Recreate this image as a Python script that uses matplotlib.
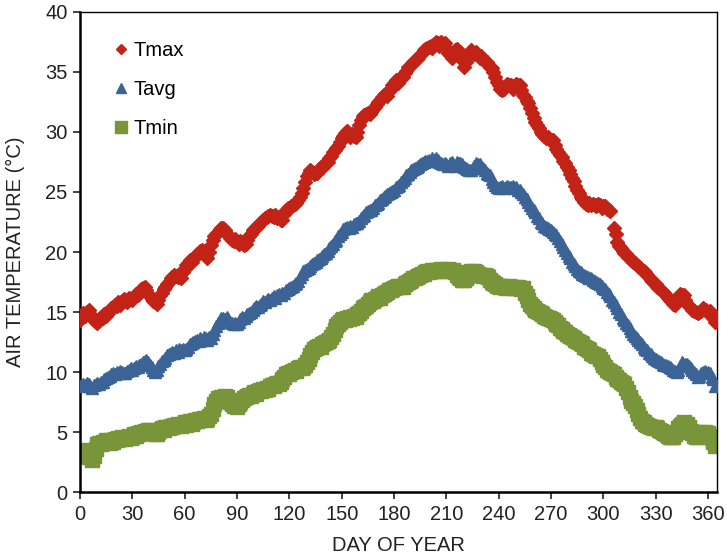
import numpy as np
import matplotlib
matplotlib.use('Agg')
import matplotlib.pyplot as plt

plt.rcParams['font.family'] = ['Liberation Sans Narrow', 'Liberation Sans', 'DejaVu Sans']

# daily air temperature, day 0..364 (nan = missing record)
nan = np.nan
t_max = [
    14.3, 14.6, 14.9, 14.7, 15.0, 15.2, 14.8, 14.5, 14.3, 14.2,
    14.1, 14.4, 14.6, 14.5, 14.8, 14.7, 14.9, 15.1, 15.3, 15.4,
    15.6, 15.5, 15.8, 15.6, 15.9, 16.1, 16.0, 15.8, 16.2, 16.1,
    16.0, 16.3, 16.5, 16.4, 16.7, 16.9, 17.0, 17.1, 16.8, 16.5,
    16.3, 16.1, 15.9, 15.8, 15.7, 16.0, 16.4, 16.6, 16.9, 17.1,
    17.3, 17.5, 17.8, 17.9, 18.1, 18.0, 17.9, 18.2, 17.8, 18.3,
    18.6, 18.9, 19.1, 19.3, 19.2, 19.5, 19.6, 19.8, 19.9, 20.1,
    20.2, 20.0, 19.7, 19.5, 20.0, 20.6, 21.0, 21.3, 21.5, 21.7,
    21.9, 22.0, 22.0, 21.8, 21.5, 21.4, 21.2, 21.0, 20.9, 21.1,
    20.8, 20.7, 20.9, 20.8, 20.6, 20.7, 21.0, 21.3, 21.5, 21.8,
    21.9, 22.1, 22.2, 22.4, 22.5, 22.7, 22.8, 22.9, 23.0, 23.1,
    23.0, 22.9, 23.1, 22.8, 22.9, 22.7, 22.7, 23.2, 23.5, 23.7,
    23.6, 23.8, 23.9, 24.0, 24.1, 24.3, 24.6, 24.9, 25.3, 25.8,
    26.3, 26.6, 26.8, 26.7, 26.5, 26.6, 26.6, 26.9, 27.1, 27.0,
    27.3, 27.4, 27.5, 27.8, 28.0, 28.3, 28.5, 28.7, 28.8, 29.2,
    29.5, 29.7, 29.9, 30.1, 29.8, 29.6, 29.8, 29.7, 29.6, 30.0,
    30.6, 31.0, 31.3, 31.4, 31.5, 31.6, 31.5, 31.7, 31.9, 32.1,
    32.3, 32.5, 32.7, 32.9, 33.1, 33.2, 33.0, 33.4, 33.6, 33.9,
    34.1, 34.3, 34.1, 34.4, 34.6, 34.6, 34.9, 35.1, 35.4, 35.5,
    35.6, 35.8, 36.0, 36.1, 36.2, 36.4, 36.6, 36.8, 36.9, 37.0,
    37.1, 37.2, 37.0, 37.3, 37.5, 37.4, 37.2, 37.5, 37.3, 37.4,
    37.0, 36.6, 36.4, 36.2, 36.5, 36.8, 36.9, 36.6, 36.7, 36.0,
    35.4, 35.8, 36.3, 36.6, 36.8, 36.6, 36.5, 36.7, 36.4, 36.2,
    36.3, 36.1, 35.9, 35.8, 35.6, 35.4, 35.3, 35.0, 34.6, 34.2,
    33.9, 33.6, 33.5, 33.6, 33.8, 34.0, 33.9, 33.9, 33.6, 33.8,
    34.0, 33.9, 33.9, 33.5, 33.1, 32.9, 32.6, 32.4, 32.0, 31.6,
    31.2, 30.8, 30.6, 30.3, 30.0, 29.8, 29.7, 29.5, 29.6, 29.4,
    29.3, 29.3, 28.9, 28.6, 28.3, 28.1, 27.9, 27.6, 27.4, 27.1,
    26.8, 26.5, 26.2, 25.9, 25.5, 25.2, 24.9, 24.6, 24.4, 24.2,
    24.0, 23.9, 24.1, 23.9, 24.0, 23.9, 23.8, 24.0, 23.9, 23.7,
    23.8, 23.8, 23.6, 23.5, 23.4, nan, 22.0, 21.5, 20.8, 20.5,
    20.3, 20.1, 19.9, 19.8, 19.6, 19.5, 19.3, 19.2, 19.1, 18.9,
    18.8, 18.7, 18.5, 18.4, 18.3, 18.1, 17.9, 17.7, 17.6, 17.4,
    17.3, 17.1, 17.0, 16.8, 16.7, 16.6, 16.4, 16.2, 16.0, 15.9,
    15.7, 15.6, 15.8, 16.1, 16.5, 16.4, 16.4, 16.0, 15.7, 15.5,
    15.3, 15.2, 15.1, 15.0, 14.9, 15.0, 15.1, 15.3, 15.2, 15.2,
    14.9, 15.1, 14.8, 14.5, 14.2,
]
t_avg = [
    8.8, 8.9, 9.0, 8.9, 9.1, 9.0, 8.8, 8.7, 8.9, 9.0,
    9.1, 9.0, 9.2, 9.2, 9.4, 9.5, 9.6, 9.7, 9.8, 9.9,
    9.8, 10.0, 9.9, 10.1, 10.0, 9.9, 9.9, 10.1, 10.2, 10.3,
    10.2, 10.3, 10.5, 10.4, 10.6, 10.7, 10.8, 10.9, 11.0, 10.8,
    10.6, 10.4, 10.2, 10.0, 10.2, 10.5, 10.7, 10.9, 11.0, 11.2,
    11.4, 11.5, 11.6, 11.7, 11.6, 11.8, 11.7, 11.9, 11.8, 11.9,
    11.8, 11.9, 12.1, 12.3, 12.4, 12.5, 12.6, 12.7, 12.6, 12.8,
    12.7, 12.9, 12.8, 12.7, 12.9, 12.8, 13.2, 13.5, 13.8, 14.1,
    14.3, 14.5, 14.5, 14.4, 14.6, 14.4, 14.2, 14.1, 14.0, 14.1,
    14.0, 14.2, 14.4, 14.6, 14.5, 14.7, 14.8, 14.9, 15.0, 15.2,
    15.3, 15.5, 15.4, 15.6, 15.7, 15.9, 15.8, 16.0, 16.1, 16.0,
    16.2, 16.3, 16.2, 16.4, 16.5, 16.4, 16.6, 16.6, 16.8, 16.9,
    17.0, 17.1, 17.2, 17.3, 17.4, 17.6, 17.9, 18.2, 18.4, 18.5,
    18.6, 18.7, 18.8, 19.0, 19.1, 19.2, 19.3, 19.4, 19.5, 19.7,
    19.8, 19.9, 20.1, 20.3, 20.5, 20.7, 20.9, 21.0, 21.3, 21.5,
    21.7, 21.9, 22.0, 22.1, 22.0, 22.2, 22.1, 22.3, 22.4, 22.4,
    22.6, 22.8, 23.0, 23.1, 23.3, 23.4, 23.5, 23.5, 23.7, 23.9,
    24.0, 24.1, 24.3, 24.4, 24.6, 24.7, 24.8, 24.9, 25.0, 25.1,
    25.2, 25.4, 25.5, 25.6, 25.8, 26.0, 26.2, 26.4, 26.5, 26.7,
    26.8, 26.9, 27.0, 27.1, 27.2, 27.3, 27.4, 27.5, 27.6, 27.6,
    27.7, 27.6, 27.8, 27.7, 27.8, 27.7, 27.5, 27.4, 27.3, 27.4,
    27.3, 27.2, 27.4, 27.5, 27.3, 27.2, 27.5, 27.4, 27.4, 27.3,
    27.1, 27.0, 26.9, 26.8, 26.8, 27.0, 27.2, 27.4, 27.3, 27.3,
    27.1, 27.0, 26.8, 26.6, 26.5, 26.4, 26.1, 25.8, 25.6, 25.4,
    25.3, 25.4, 25.5, 25.3, 25.4, 25.5, 25.4, 25.4, 25.5, 25.3,
    25.4, 25.2, 25.2, 25.0, 24.8, 24.6, 24.4, 24.2, 23.9, 23.7,
    23.5, 23.3, 23.0, 22.8, 22.5, 22.4, 22.2, 22.1, 22.0, 21.9,
    21.8, 21.7, 21.5, 21.4, 21.2, 20.9, 20.7, 20.4, 20.2, 19.9,
    19.7, 19.5, 19.2, 19.0, 18.8, 18.6, 18.4, 18.3, 18.2, 18.1,
    18.0, 17.9, 17.8, 17.8, 17.7, 17.6, 17.5, 17.4, 17.3, 17.2,
    17.0, 16.9, 16.7, 16.5, 16.3, 16.0, 15.8, 15.6, 15.3, 15.0,
    14.8, 14.5, 14.3, 14.1, 13.9, 13.7, 13.4, 13.2, 13.0, 12.8,
    12.7, 12.5, 12.3, 12.1, 11.9, 11.8, 11.6, 11.5, 11.3, 11.2,
    11.1, 11.0, 10.9, 10.8, 10.7, 10.6, 10.6, 10.5, 10.4, 10.3,
    10.2, 10.1, 10.0, 10.2, 10.5, 10.8, 10.6, 10.7, 10.7, 10.5,
    10.3, 10.2, 10.0, 9.8, 9.6, 9.7, 9.9, 10.0, 10.1, 9.9,
    10.0, 9.9, 9.6, 9.4, 8.8,
]
t_min = [
    3.3, 3.5, 3.4, 3.2, 3.0, 2.9, 3.1, 2.7, 3.0, 3.6,
    4.0, 4.1, 4.0, 4.2, 4.1, 4.3, 4.2, 4.1, 4.3, 4.2,
    4.4, 4.3, 4.5, 4.4, 4.6, 4.5, 4.4, 4.6, 4.7, 4.5,
    4.6, 4.8, 4.7, 4.9, 4.8, 5.0, 4.9, 5.1, 5.0, 5.2,
    5.2, 5.0, 4.9, 4.8, 4.8, 5.0, 5.2, 5.3, 5.2, 5.4,
    5.4, 5.3, 5.5, 5.4, 5.6, 5.5, 5.7, 5.6, 5.5, 5.7,
    5.8, 5.6, 5.8, 5.9, 5.7, 5.8, 6.0, 5.9, 6.1, 6.0,
    6.1, 6.2, 6.0, 6.1, 6.3, 6.5, 6.9, 7.3, 7.6, 7.8,
    7.7, 7.9, 7.8, 8.0, 7.9, 7.7, 7.5, 7.3, 7.2, 7.4,
    7.1, 7.3, 7.5, 7.7, 7.8, 7.9, 8.0, 8.1, 8.0, 8.2,
    8.3, 8.2, 8.4, 8.5, 8.4, 8.6, 8.5, 8.7, 8.6, 8.8,
    8.9, 8.8, 9.0, 9.1, 9.0, 9.2, 9.4, 9.6, 9.8, 9.9,
    9.8, 10.0, 10.1, 10.2, 10.1, 10.3, 10.4, 10.3, 10.4, 10.6,
    10.8, 11.1, 11.4, 11.7, 11.9, 12.0, 12.1, 12.2, 12.1, 12.3,
    12.4, 12.5, 12.6, 12.7, 12.9, 13.2, 13.5, 13.8, 14.0, 14.2,
    14.3, 14.4, 14.3, 14.5, 14.4, 14.6, 14.5, 14.7, 14.6, 14.8,
    14.9, 15.1, 15.3, 15.4, 15.5, 15.7, 15.8, 16.0, 15.9, 16.1,
    16.2, 16.3, 16.2, 16.4, 16.5, 16.6, 16.7, 16.8, 16.8, 16.9,
    17.0, 17.1, 17.2, 17.1, 17.2, 17.1, 17.3, 17.4, 17.5, 17.6,
    17.7, 17.8, 17.8, 17.9, 18.0, 18.1, 18.2, 18.2, 18.3, 18.4,
    18.3, 18.4, 18.5, 18.4, 18.5, 18.5, 18.4, 18.6, 18.5, 18.4,
    18.5, 18.6, 18.5, 18.4, 18.5, 18.3, 18.1, 17.9, 17.8, 17.7,
    17.7, 17.8, 18.0, 18.3, 18.4, 18.3, 18.4, 18.3, 18.2, 18.1,
    18.1, 18.0, 18.1, 18.0, 17.9, 17.7, 17.5, 17.4, 17.3, 17.2,
    17.2, 17.1, 17.2, 17.1, 17.0, 17.1, 17.2, 17.1, 17.0, 17.1,
    17.0, 17.1, 17.0, 16.9, 17.0, 16.6, 16.3, 16.0, 15.7, 15.5,
    15.3, 15.2, 15.1, 15.0, 14.9, 14.8, 14.7, 14.6, 14.5, 14.5,
    14.4, 14.3, 14.2, 14.0, 13.9, 13.7, 13.6, 13.4, 13.3, 13.2,
    13.1, 13.0, 12.9, 12.8, 12.7, 12.6, 12.5, 12.4, 12.3, 12.1,
    12.0, 11.9, 11.8, 11.6, 11.5, 11.4, 11.3, 11.3, 11.1, 10.8,
    10.6, 10.4, 10.2, 10.1, 10.0, 9.9, 9.8, 9.6, 9.4, 9.3,
    9.2, 9.1, 9.0, 8.7, 8.3, 7.9, 7.6, 7.4, 7.2, 6.8,
    6.5, 6.2, 5.9, 5.8, 5.7, 5.6, 5.5, 5.4, 5.4, 5.3,
    5.4, 5.3, 5.2, 5.1, 5.0, 4.9, 4.8, 4.7, 4.6, 4.6,
    4.6, 4.8, 5.0, 5.3, 5.5, 5.7, 5.8, 5.6, 5.7, 5.4,
    5.1, 4.9, 4.7, 4.6, 4.6, 4.8, 5.0, 4.9, 5.0, 4.9,
    4.9, 4.7, 4.5, 4.2, 3.8,
]
days = np.arange(len(t_max))

fig = plt.figure(figsize=(7.27, 5.6), dpi=100)
ax = fig.add_axes([0.110, 0.1214, 0.876, 0.8572])

ax.plot(days, t_min, ls='none', marker='s', ms=9.5, color='#78953a', label='Tmin', zorder=2)
ax.plot(days, t_avg, ls='none', marker='^', ms=9, color='#3c6396', label='Tavg', zorder=3)
ax.plot(days, t_max, ls='none', marker='D', ms=6.8, color='#c32217', label='Tmax', zorder=4)

ax.set_xlim(0, 365)
ax.set_ylim(0, 40)
ax.set_xticks(range(0, 361, 30))
ax.set_yticks(range(0, 41, 5))
ax.tick_params(direction='out', length=5, width=1.2, labelsize=14.5, colors='#222222', pad=4)
for side in ['left', 'bottom']:
    ax.spines[side].set_linewidth(1.8)
for side in ['top', 'right']:
    ax.spines[side].set_linewidth(1.0)

ax.set_xlabel('DAY OF YEAR', fontsize=14.5, color='#222222', labelpad=9)
ax.set_ylabel('AIR TEMPERATURE (°C)', fontsize=14.5, color='#222222')
ax.yaxis.set_label_coords(-0.087, 0.5)

handles, labels = ax.get_legend_handles_labels()
leg = ax.legend(handles[::-1], labels[::-1], loc='upper left', frameon=False,
                fontsize=14.5, labelspacing=1.0, handlelength=0.6, handletextpad=0.3,
                borderaxespad=0, bbox_to_anchor=(0.043, 0.957))
leg.legend_handles[0].set_markersize(5.5)
leg.legend_handles[1].set_markersize(6.5)
leg.legend_handles[2].set_markersize(8)

fig.savefig('out.png', dpi=100)
